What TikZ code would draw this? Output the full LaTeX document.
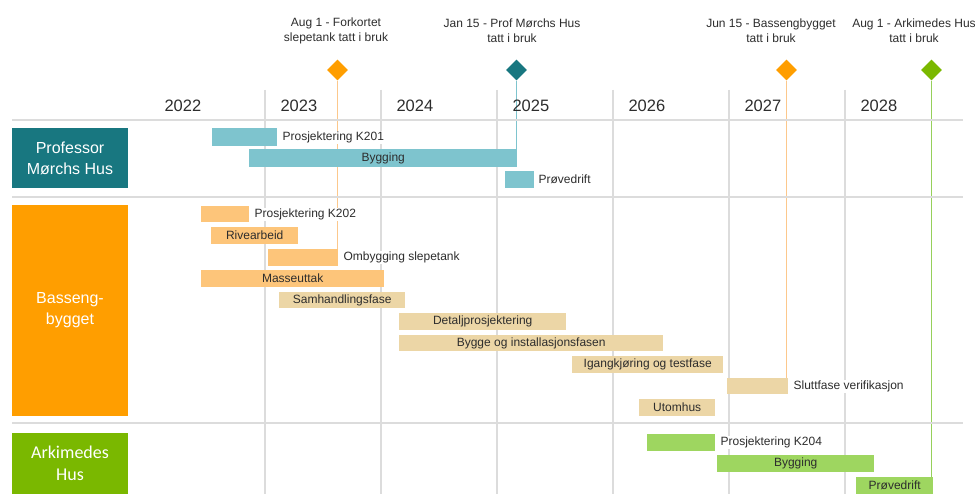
\documentclass[tikz,border=0pt]{standalone}
\usepackage{fontspec}
\setmainfont{Liberation Sans}
\newfontfamily\calfont{Carlito}
\usetikzlibrary{positioning,shapes.geometric,backgrounds}
\definecolor{tealD}{RGB}{24,119,128}
\definecolor{tealL}{RGB}{126,196,206}
\definecolor{orangeD}{RGB}{255,158,0}
\definecolor{orangeL}{RGB}{253,197,122}
\definecolor{orangeLn}{RGB}{252,200,140}
\definecolor{tanL}{RGB}{236,214,166}
\definecolor{greenD}{RGB}{122,184,0}
\definecolor{greenL}{RGB}{158,214,96}
\definecolor{greenLn}{RGB}{150,208,90}
\definecolor{gridc}{RGB}{220,220,220}
\definecolor{txt}{RGB}{45,45,45}
\begin{document}
\begin{tikzpicture}[x=1pt,y=-1pt,
  bar/.style={anchor=north west,inner sep=0pt,minimum height=17pt,font=\fontsize{12}{14}\selectfont,text=txt},
  lab/.style={fill=white,inner sep=1pt,font=\fontsize{12}{14}\selectfont,text=txt},
  grp/.style={inner sep=0pt,minimum width=116pt,text=white,align=center,font=\fontsize{16}{21}\selectfont},
  year/.style={anchor=west,font=\fontsize{16.5}{18}\selectfont,text=txt},
  ms/.style={diamond,inner sep=0pt,minimum width=21pt,minimum height=21pt},
  msline/.style={line width=1.5pt},
  mstext/.style={align=center,font=\fontsize{12}{15}\selectfont,text=txt},
  gridline/.style={draw=gridc,line width=1.5pt}]
\useasboundingbox (0,0) rectangle (975,494);
\draw[gridline] (12,120) -- (963,120);
\draw[gridline] (12,197) -- (963,197);
\draw[gridline] (12,423) -- (963,423);
\foreach \yr [count=\i from 0] in {2022,...,2028}
  \node[year] (y\yr) at (161+116*\i,106) {\yr};
\node[grp,fill=tealD,minimum height=60pt] (prof) at (70,158) {Professor\\Mørchs Hus};
\node[grp,fill=orangeD,minimum height=211pt] (bass) at (70,310.5) {Basseng-\\bygget};
\node[grp,fill=greenD,minimum height=61pt,font=\calfont\fontsize{18}{22}\selectfont] (arki) at (70,463.5) {Arkimedes\\Hus};
\node[bar,fill=tealL,minimum width=65pt,minimum height=18pt] (k201) at (212,128) {};
\node[lab,right=4pt of k201] (k201t) {Prosjektering K201};
\node[bar,fill=tealL,minimum width=268pt,minimum height=18pt] (byg1) at (249,149) {Bygging};
\node[bar,fill=tealL,minimum width=29pt] (prv1) at (505,171) {};
\node[lab,right=3pt of prv1] (prv1t) {Prøvedrift};
\node[bar,fill=orangeL,minimum width=48pt,minimum height=16pt] (k202) at (201,206) {};
\node[lab,right=4pt of k202] (k202t) {Prosjektering K202};
\node[bar,fill=orangeL,minimum width=87pt] (riv) at (211,227) {Rivearbeid};
\node[bar,fill=orangeL,minimum width=70pt] (omb) at (268,249) {};
\node[lab,right=4pt of omb] (ombt) {Ombygging slepetank};
\node[bar,fill=orangeL,minimum width=183pt] (mas) at (201,270) {Masseuttak};
\node[bar,fill=tanL,minimum width=126pt,minimum height=16pt] (sam) at (279,292) {Samhandlingsfase};
\node[bar,fill=tanL,minimum width=167pt] (det) at (399,313) {Detaljprosjektering};
\node[bar,fill=tanL,minimum width=264pt,minimum height=16pt] (bio) at (399,335) {Bygge og installasjonsfasen};
\node[bar,fill=tanL,minimum width=151pt] (igk) at (572,356) {Igangkjøring og testfase};
\node[bar,fill=tanL,minimum width=61pt,minimum height=16pt] (slf) at (727,378) {};
\node[lab,right=4pt of slf] (slft) {Sluttfase verifikasjon};
\node[bar,fill=tanL,minimum width=76pt] (uto) at (639,399) {Utomhus};
\node[bar,fill=greenL,minimum width=68pt] (k204) at (647,434) {};
\node[lab,right=4pt of k204] (k204t) {Prosjektering K204};
\node[bar,fill=greenL,minimum width=157pt] (byg3) at (717,455) {Bygging};
\node[bar,fill=greenL,minimum width=77pt] (prv3) at (856,477) {Prøvedrift};
\node[ms,fill=orangeD] (ms1) at (337.5,70) {};
\node[ms,fill=tealD] (ms2) at (516.5,70) {};
\node[ms,fill=orangeD] (ms3) at (786.5,70) {};
\node[ms,fill=greenD] (ms4) at (931.5,70) {};
\node[mstext] (ms1t) at (336,31) {Aug 1 - Forkortet\\slepetank tatt i bruk};
\node[mstext] (ms2t) at (512,31) {Jan 15 - Prof Mørchs Hus\\tatt i bruk};
\node[mstext] (ms3t) at (771,31) {Jun 15 - Bassengbygget\\tatt i bruk};
\node[mstext] (ms4t) at (914,31) {Aug 1 - Arkimedes Hus\\tatt i bruk};
\begin{scope}[on background layer]
\foreach \i in {0,...,5}
  \draw[gridline] (265+116*\i,90) -- (265+116*\i,494);
\draw[msline,orangeLn] (ms1.south) -- (ms1 |- omb.south);
\draw[msline,tealL] (ms2.south) -- (ms2 |- byg1.south);
\draw[msline,orangeLn] (ms3.south) -- (ms3 |- slf.south);
\draw[msline,greenLn] (ms4.south) -- (ms4 |- prv3.south);
\end{scope}
\end{tikzpicture}
\end{document}
